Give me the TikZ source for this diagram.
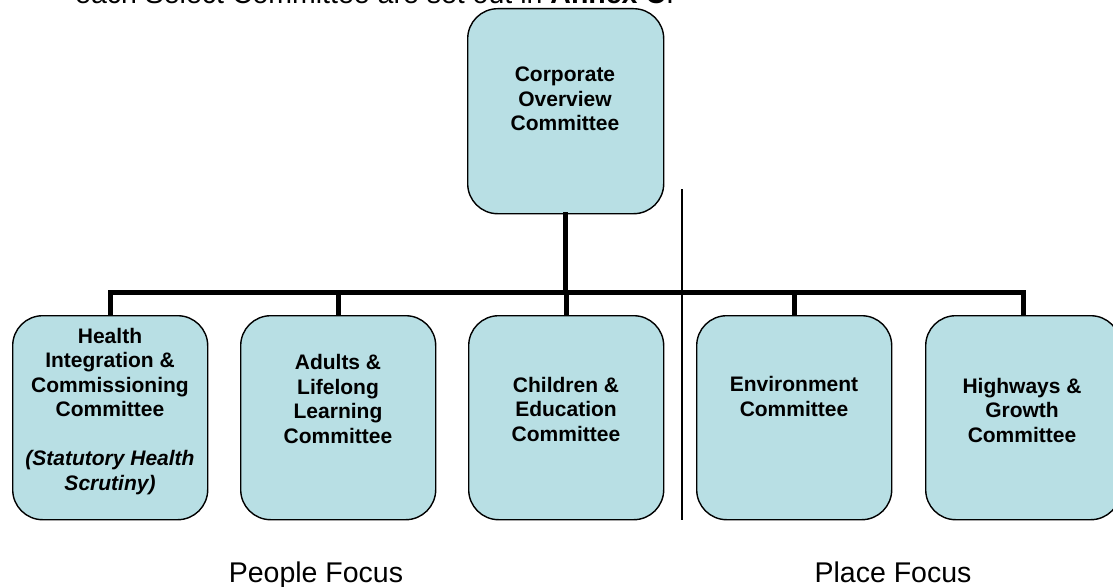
\documentclass[tikz,border=0pt]{standalone}
\usepackage{fontspec}
\setmainfont{Liberation Sans}
\definecolor{boxfill}{RGB}{184,223,228}
\begin{document}
\begin{tikzpicture}[x=1pt,y=-1pt,
  cbox/.style={draw=black,line width=1.4pt,fill=boxfill,rounded corners=30pt,minimum width=195pt,minimum height=204pt,inner sep=0pt,anchor=north west},
  btxt/.style={align=center,font=\fontsize{21}{24.5}\selectfont\bfseries},
  bus/.style={line width=5pt,line cap=rect},
  ftxt/.style={font=\fontsize{28.5}{33}\selectfont,anchor=base}]
\useasboundingbox (0,0) rectangle (1113,586);
% top partial text (clipped by page edge, as in the reference)
\node[font=\fontsize{28.5}{33}\selectfont,anchor=base west,inner sep=0pt] (toptext) at (75,3.5) {each Select Committee are set out in \textbf{Annex C}.};
% boxes
\node[cbox,minimum width=196pt,minimum height=205pt] (top) at (467,8) {};
\node[cbox] (b1) at (12,315) {};
\node[cbox] (b2) at (240,315) {};
\node[cbox] (b3) at (468,315) {};
\node[cbox] (b4) at (696,315) {};
\node[cbox] (b5) at (925,315) {};
% texts
\node[btxt] (ttop) at (565,99) {Corporate\\Overview\\Committee};
\node[btxt] (t1) at (110,411.5) {Health\\Integration \&\\Commissioning\\Committee\\[24.5pt]\textit{(Statutory Health}\\\textit{Scrutiny)}};
\node[btxt] (t2) at (338,399) {Adults \&\\Lifelong\\Learning\\Committee};
\node[btxt] (t3) at (566,409) {Children \&\\Education\\Committee};
\node[btxt] (t4) at (794,396.5) {Environment\\Committee};
\node[btxt] (t5) at (1022,410) {Highways \&\\Growth\\Committee};
% connectors
\coordinate (busL) at (b1.north |- 0,292);
\coordinate (busR) at (b5.north |- 0,292);
\draw[bus] (top.south) -- (top.south |- busL);
\draw[bus,line cap=butt] (b1.north) -- (busL) -- (busR) -- (b5.north);
\draw[bus,line cap=butt] (b2.north) -- (b2.north |- busL);
\draw[bus,line cap=butt] (b3.north) -- (b3.north |- busL);
\draw[bus,line cap=butt] (b4.north) -- (b4.north |- busL);
% divider
\coordinate (dtop) at (682,189);
\coordinate (dbot) at (682,520);
\draw[line width=1.4pt] (dtop) -- (dbot);
% focus labels
\node[ftxt] (people) at (316,582) {People Focus};
\node[ftxt] (place) at (893,582) {Place Focus};
\end{tikzpicture}
\end{document}
